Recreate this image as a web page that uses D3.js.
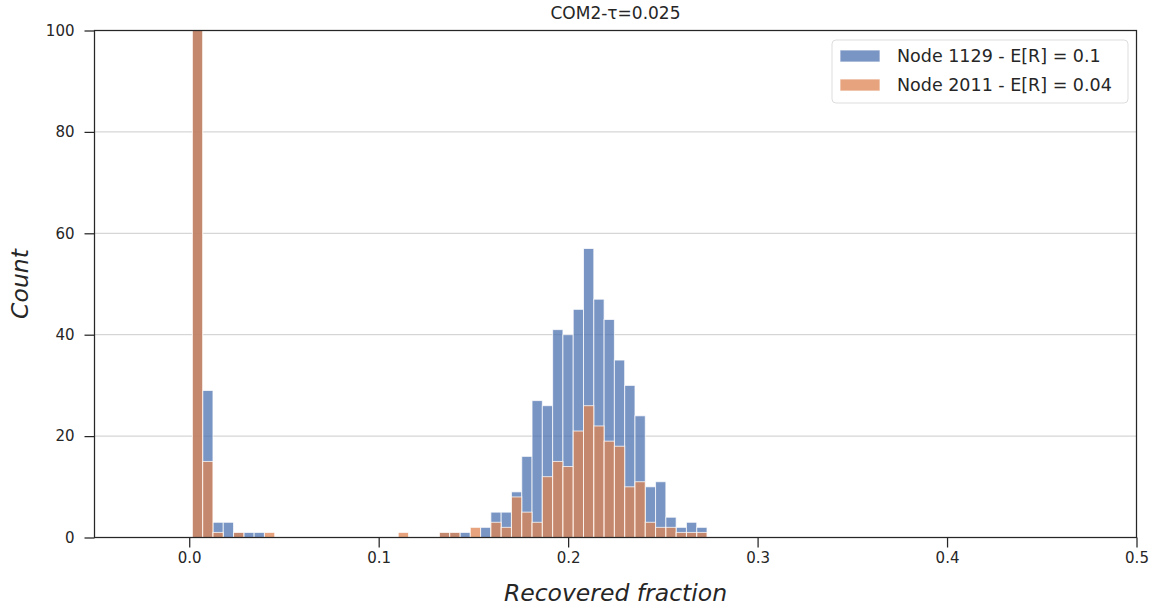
<!DOCTYPE html>
<html>
<head>
<meta charset="utf-8">
<script src="https://cdn.jsdelivr.net/npm/d3@7"></script>
<style>
  body { margin: 0; background: #fff; }
  svg text { font-family: "DejaVu Sans", sans-serif; fill: #262626; }
</style>
</head>
<body>
<script>
// histogram of recovered fraction, two nodes layered on top of each other

// bins: 50 equal bins from min to max of the data
var binStart = 0.00166,
	binWidth = 0.005433;

// counts per bin (bin 0 is cut off at 100)
var node1129 = [475, 29, 3, 3, 1, 1, 1, 0, 0, 0,
	0, 0, 0, 0, 0, 0, 0, 0, 0, 0,
	0, 0, 0, 0, 1, 1, 1, 0, 2, 5,
	5, 9, 16, 27, 26, 41, 40, 45, 57, 47,
	43, 35, 30, 24, 10, 11, 4, 2, 3, 2];

var node2011 = [778, 15, 1, 0, 1, 0, 0, 1, 0, 0,
	0, 0, 0, 0, 0, 0, 0, 0, 0, 0,
	1, 0, 0, 0, 1, 1, 0, 2, 0, 3,
	2, 8, 5, 3, 12, 15, 14, 21, 26, 22,
	19, 18, 10, 11, 3, 2, 2, 1, 1, 1];

var seriesNames = ["Node 1129 - E[R] = 0.1", "Node 2011 - E[R] = 0.04"];
var seriesColors = ["#4c72b0", "#dd8452"];

var xTicks = [0.0, 0.1, 0.2, 0.3, 0.4, 0.5];
var yTicks = [0, 20, 40, 60, 80, 100];

var width = 1167,
	height = 613;

var margin = {top: 30.5, right: 30.5, bottom: 75.5, left: 94.5};

var svg = d3.select("body")
	.append("svg")
	.attr("width", width)
	.attr("height", height);

var x = d3.scaleLinear()
	.domain([-0.05, 0.5])
	.range([margin.left, width - margin.right]);

var y = d3.scaleLinear()
	.domain([0, 100])
	.range([height - margin.bottom, margin.top]);

// clip so the tall first bin stops at the top spine
svg.append("clipPath")
	.attr("id", "plotclip")
	.append("rect")
	.attr("x", margin.left)
	.attr("y", margin.top)
	.attr("width", width - margin.left - margin.right)
	.attr("height", height - margin.top - margin.bottom);

// horizontal grid
svg.append("g")
	.selectAll("line")
	.data(yTicks.slice(1, -1))
	.enter().append("line")
	.attr("x1", margin.left)
	.attr("x2", width - margin.right)
	.attr("y1", function(d) { return y(d); })
	.attr("y2", function(d) { return y(d); })
	.attr("stroke", "#cccccc")
	.attr("stroke-width", 1);

var bars = svg.append("g").attr("clip-path", "url(#plotclip)");

[node1129, node2011].forEach(function(counts, s) {
	var data = counts.map(function(c, i) {
		return {x0: binStart + i * binWidth, x1: binStart + (i + 1) * binWidth, n: c};
	}).filter(function(d) { return d.n > 0; });

	bars.append("g")
		.selectAll("rect")
		.data(data)
		.enter().append("rect")
		.attr("x", function(d) { return x(d.x0); })
		.attr("width", function(d) { return x(d.x1) - x(d.x0); })
		.attr("y", function(d) { return y(d.n); })
		.attr("height", function(d) { return y(0) - y(d.n); })
		.attr("fill", seriesColors[s])
		.attr("fill-opacity", 0.75)
		.attr("stroke", "#ffffff")
		.attr("stroke-opacity", 0.75)
		.attr("stroke-width", 1);
});

// axes
var xAxis = svg.append("g")
	.attr("transform", "translate(0," + y(0) + ")")
	.call(d3.axisBottom(x).tickValues(xTicks).tickFormat(d3.format(".1f")).tickSize(10).tickPadding(5));

var yAxis = svg.append("g")
	.attr("transform", "translate(" + margin.left + ",0)")
	.call(d3.axisLeft(y).tickValues(yTicks).tickSize(10).tickPadding(10));

[xAxis, yAxis].forEach(function(g) {
	g.select(".domain").remove();
	g.selectAll(".tick line").attr("stroke", "#262626").attr("stroke-width", 1.25);
	g.selectAll(".tick text")
		.style("font-family", "'DejaVu Sans', sans-serif")
		.style("font-size", "15px")
		.attr("fill", "#333333");
});

// frame (all four spines)
svg.append("rect")
	.attr("x", margin.left)
	.attr("y", margin.top)
	.attr("width", width - margin.left - margin.right)
	.attr("height", height - margin.top - margin.bottom)
	.attr("fill", "none")
	.attr("stroke", "#262626")
	.attr("stroke-width", 1.25);

// title and labels
svg.append("text")
	.attr("x", (margin.left + width - margin.right) / 2)
	.attr("y", 19)
	.attr("text-anchor", "middle")
	.style("font-size", "17px")
	.text("COM2-\u03c4=0.025");

svg.append("text")
	.attr("x", (margin.left + width - margin.right) / 2)
	.attr("y", 601)
	.attr("text-anchor", "middle")
	.style("font-size", "23.5px")
	.style("font-style", "italic")
	.text("Recovered fraction");

svg.append("text")
	.attr("transform", "translate(28," + ((margin.top + height - margin.bottom) / 2) + ") rotate(-90)")
	.attr("text-anchor", "middle")
	.style("font-size", "23.5px")
	.style("font-style", "italic")
	.text("Count");

// legend
var legend = svg.append("g").attr("transform", "translate(832,40)");

legend.append("rect")
	.attr("width", 296)
	.attr("height", 63)
	.attr("rx", 4)
	.attr("fill", "#ffffff")
	.attr("fill-opacity", 0.8)
	.attr("stroke", "#dddddd");

seriesNames.forEach(function(name, s) {
	var row = legend.append("g").attr("transform", "translate(0," + (s * 29) + ")");
	row.append("rect")
		.attr("x", 8)
		.attr("y", 10)
		.attr("width", 40)
		.attr("height", 12)
		.attr("fill", seriesColors[s])
		.attr("fill-opacity", 0.75)
		.attr("stroke", "#ffffff")
		.attr("stroke-opacity", 0.75);
	row.append("text")
		.attr("x", 65)
		.attr("y", 22)
		.style("font-size", "17.5px")
		.text(name);
});
</script>
</body>
</html>
